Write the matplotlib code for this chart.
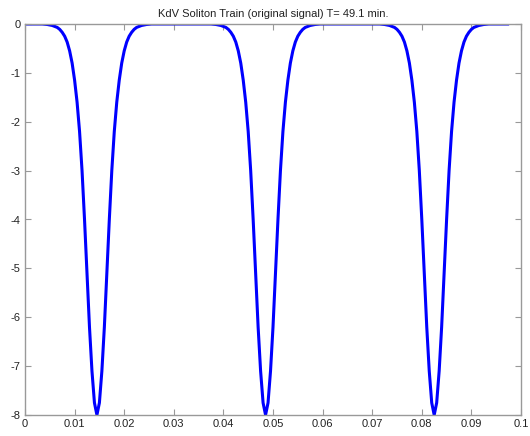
import matplotlib
matplotlib.use("Agg")
import matplotlib.pyplot as plt

# KdV soliton train
time_s = [0.0, 0.0035, 0.0045, 0.0055, 0.0065, 0.0070, 0.0075, 0.0080, 0.0085, 0.0090,
          0.0095, 0.0100, 0.0105, 0.0110, 0.0115, 0.0120, 0.0125, 0.0130, 0.0135, 0.0140,
          0.0145,
          0.0150, 0.0155, 0.0160, 0.0165, 0.0170, 0.0175, 0.0180, 0.0185, 0.0190, 0.0195,
          0.0200, 0.0205, 0.0210, 0.0215, 0.0220, 0.0225, 0.0235, 0.0245, 0.0255,
          0.0375, 0.0385, 0.0395, 0.0405, 0.0410, 0.0415, 0.0420, 0.0425, 0.0430, 0.0435,
          0.0440, 0.0445, 0.0450, 0.0455, 0.0460, 0.0465, 0.0470, 0.0475, 0.0480,
          0.0485,
          0.0490, 0.0495, 0.0500, 0.0505, 0.0510, 0.0515, 0.0520, 0.0525, 0.0530, 0.0535,
          0.0540, 0.0545, 0.0550, 0.0555, 0.0560, 0.0565, 0.0575, 0.0585, 0.0595,
          0.0715, 0.0725, 0.0735, 0.0745, 0.0750, 0.0755, 0.0760, 0.0765, 0.0770, 0.0775,
          0.0780, 0.0785, 0.0790, 0.0795, 0.0800, 0.0805, 0.0810, 0.0815, 0.0820,
          0.0825,
          0.0830, 0.0835, 0.0840, 0.0845, 0.0850, 0.0855, 0.0860, 0.0865, 0.0870, 0.0875,
          0.0880, 0.0885, 0.0890, 0.0895, 0.0900, 0.0905, 0.0915, 0.0925, 0.0935, 0.0973]

amplitude = [0.0, 0.0, -0.01, -0.03, -0.07, -0.11, -0.17, -0.25, -0.37, -0.55,
             -0.8, -1.15, -1.6, -2.2, -3.0, -4.0, -5.1, -6.2, -7.1, -7.75,
             -8.0,
             -7.75, -7.1, -6.2, -5.1, -4.0, -3.0, -2.2, -1.6, -1.15, -0.8,
             -0.55, -0.37, -0.25, -0.17, -0.11, -0.07, -0.03, -0.01, 0.0,
             0.0, -0.01, -0.03, -0.07, -0.11, -0.17, -0.25, -0.37, -0.55, -0.8,
             -1.15, -1.6, -2.2, -3.0, -4.0, -5.1, -6.2, -7.1, -7.75,
             -8.0,
             -7.75, -7.1, -6.2, -5.1, -4.0, -3.0, -2.2, -1.6, -1.15, -0.8,
             -0.55, -0.37, -0.25, -0.17, -0.11, -0.07, -0.03, -0.01, 0.0,
             0.0, -0.01, -0.03, -0.07, -0.11, -0.17, -0.25, -0.37, -0.55, -0.8,
             -1.15, -1.6, -2.2, -3.0, -4.0, -5.1, -6.2, -7.1, -7.75,
             -8.0,
             -7.75, -7.1, -6.2, -5.1, -4.0, -3.0, -2.2, -1.6, -1.15, -0.8,
             -0.55, -0.37, -0.25, -0.17, -0.11, -0.07, -0.03, -0.01, 0.0, 0.0]

x_ticks = [0, 0.01, 0.02, 0.03, 0.04, 0.05, 0.06, 0.07, 0.08, 0.09, 0.1]
x_labels = ["0", "0.01", "0.02", "0.03", "0.04", "0.05", "0.06", "0.07", "0.08", "0.09", "0.1"]
y_ticks = [0, -1, -2, -3, -4, -5, -6, -7, -8]

plt.rcParams['font.family'] = ['Liberation Sans', 'DejaVu Sans']

fig = plt.figure(figsize=(5.3, 4.36), dpi=100)
ax = fig.add_axes([25 / 530, 21 / 436, 496 / 530, 391 / 436])

ax.plot(time_s, amplitude, color='#0000ff', linewidth=2.2, solid_joinstyle='round')

ax.set_xlim(0, 0.1)
ax.set_ylim(-8, 0)
ax.set_xticks(x_ticks)
ax.set_xticklabels(x_labels)
ax.set_yticks(y_ticks)
ax.set_yticklabels([str(v) for v in y_ticks])

# matlab-ish box with inward ticks on every side
ax.tick_params(direction='in', length=4, width=0.8, color='#999999',
               top=True, right=True, labelsize=8, labelcolor='#222222', pad=3)
for side in ax.spines.values():
    side.set_color('#999999')
    side.set_linewidth(1.0)

ax.set_title('KdV Soliton Train (original signal) T= 49.1 min.', fontsize=8,
             color='#222222', pad=5)

fig.savefig('out.png', dpi=100)
